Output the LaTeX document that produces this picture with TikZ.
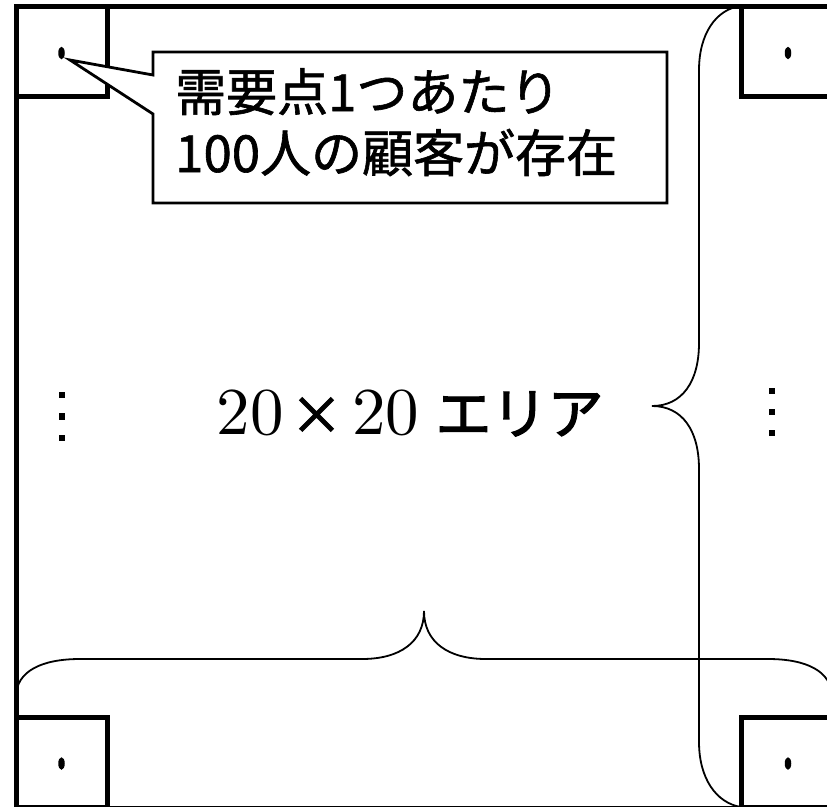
\documentclass[tikz,border=0pt]{standalone}
\usepackage{fontspec}
\usetikzlibrary{shapes.geometric}
\newfontfamily\cjk{Noto Sans CJK JP}[FakeBold=1.2]
\newfontfamily\cjkarea{Noto Sans CJK JP}[FakeBold=2.2]
\newfontfamily\lmten{lmroman10-regular.otf}
\begin{document}
\begin{tikzpicture}[x=1pt,y=-1pt,
  frame/.style={line width=5pt},
  cell/.style={draw,line width=5pt,minimum width=91.5pt,minimum height=90.5pt,inner sep=0pt,outer sep=0pt},
  spot/.style={fill=black,ellipse,minimum width=6.5pt,minimum height=12.5pt,inner sep=0pt},
  bracepath/.style={line width=1.8pt},
  calloutline/.style={line width=2.8pt,line join=miter},
  vdot/.style={fill=black,minimum size=6.5pt,inner sep=0pt},
  notetext/.style={font=\cjk\fontsize{51}{60}\selectfont,anchor=base west,inner sep=0pt},
  bigtext/.style={anchor=base,inner sep=0pt}
]
\useasboundingbox (0,0) rectangle (827,806);
\clip (0,0) rectangle (827,806);
% outer frame
\draw[frame] (16,6) rectangle (834,808);
% corner cells
\node[cell] (tl) at (61.75,51.25) {};
\node[cell] (tr) at (787.25,51.25) {};
\node[cell] (bl) at (61.75,762.25) {};
\node[cell] (br) at (787.25,762.25) {};
\node[spot] (dtl) at (61.5,53) {};
\node[spot] (dtr) at (788,53) {};
\node[spot] (dbl) at (61.5,763.5) {};
\node[spot] (dbr) at (788,763.5) {};
% callout
\coordinate (tip) at (70,60);
\draw[calloutline,fill=white] (153,75) -- (153,52) -- (667,52) -- (667,203) -- (153,203) -- (153,114) -- (tip) -- cycle;
\node[notetext] (l1) at (175,111) {需要点1つあたり};
\node[notetext] (l2) at (175,172) {100人の顧客が存在};
% braces
\draw[bracepath] (16,697) .. controls (16,671) and (42,659) .. (80,659)
  -- (362,659) .. controls (400,659) and (424,642) .. (424,611)
  .. controls (424,642) and (448,659) .. (486,659)
  -- (768,659) .. controls (806,659) and (832,671) .. (832,697);
\draw[bracepath] (741,6) .. controls (716,9) and (699,34) .. (699,70)
  -- (699,343) .. controls (699,382) and (682,406) .. (652,406)
  .. controls (682,406) and (699,430) .. (699,469)
  -- (699,742) .. controls (699,778) and (716,803) .. (741,807);
% vertical ellipses
\foreach \yy in {395,416.5,438} \node[vdot] at (62,\yy) {};
\foreach \yy in {391,412,433} \node[vdot] at (772,\yy) {};
% main label
\node[bigtext,font=\lmten\fontsize{67}{70}\selectfont] (na) at (250,434) {20};
\node[bigtext,font=\cjkarea\fontsize{52}{60}\selectfont] (nx) at (316.5,434) {×};
\node[bigtext,font=\lmten\fontsize{67}{70}\selectfont] (nb) at (385.5,434) {20};
\node[bigtext,font=\cjkarea\fontsize{56}{60}\selectfont] (nc) at (519.5,434) {エリア};
\end{tikzpicture}
\end{document}
